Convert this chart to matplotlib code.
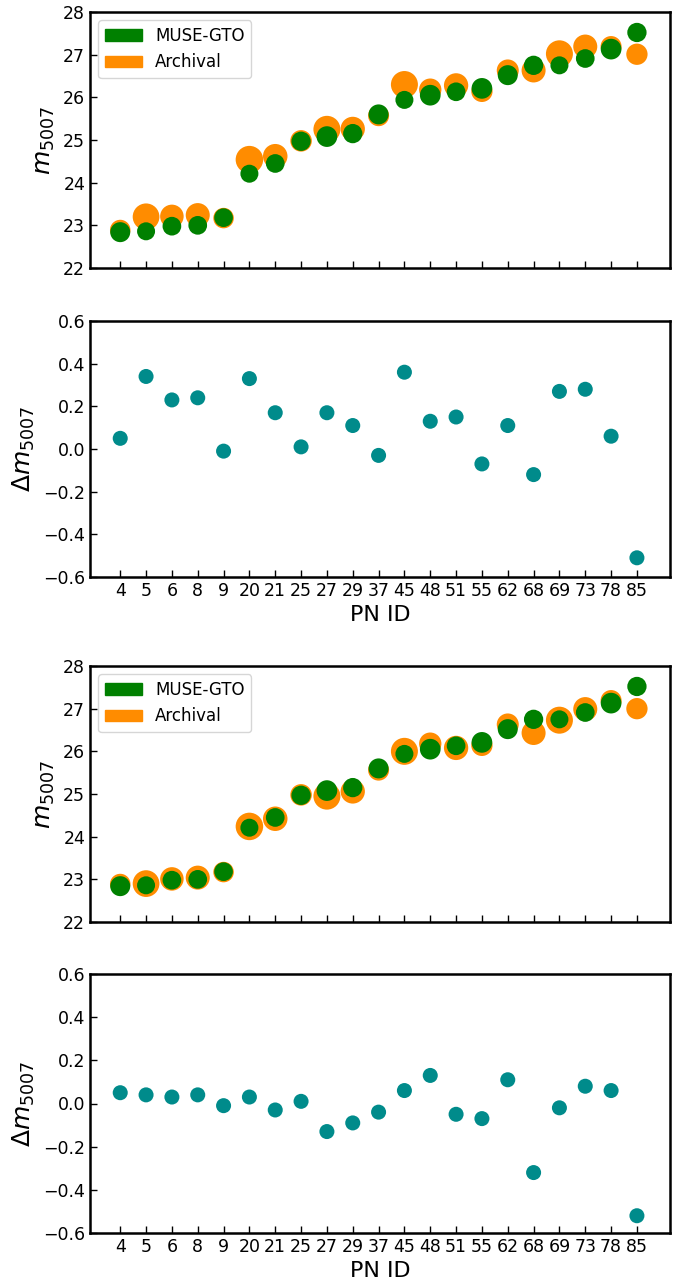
from matplotlib import pyplot as plt
from matplotlib.patches import Patch
import numpy as np

pn_ids = ["4", "5", "6", "8", "9", "20", "21", "25", "27", "29", "37",
          "45", "48", "51", "55", "62", "68", "69", "73", "78", "85"]

muse_mag = [22.84, 22.86, 22.98, 23.00, 23.18, 24.21, 24.45, 24.97, 25.08, 25.15, 25.60,
            25.94, 26.05, 26.13, 26.21, 26.52, 26.75, 26.75, 26.91, 27.13, 27.52]

# archival magnitudes, first calibration (top figure)
arch_mag_1 = [22.89, 23.20, 23.21, 23.24, 23.17, 24.54, 24.62, 24.98, 25.25, 25.26, 25.57,
              26.30, 26.18, 26.28, 26.14, 26.63, 26.63, 27.02, 27.19, 27.19, 27.01]

# archival magnitudes, second calibration (bottom figure)
arch_mag_2 = [22.89, 22.90, 23.01, 23.04, 23.17, 24.24, 24.42, 24.98, 24.95, 25.06, 25.56,
              26.00, 26.18, 26.08, 26.14, 26.63, 26.43, 26.73, 26.99, 27.19, 27.00]

# marker areas (pt^2) as drawn in the figure
muse_size = [207, 168, 181, 181, 181, 168, 181, 193, 222, 193, 207,
             168, 222, 181, 222, 207, 193, 168, 181, 222, 193]
arch_size = [218, 370, 286, 299, 218, 392, 311, 240, 378, 306, 229,
             378, 258, 306, 235, 251, 299, 378, 299, 229, 235]

GREEN = "green"
ORANGE = "darkorange"
TEAL = "darkcyan"


def style_axes(ax):
    ax.tick_params(direction="in", length=5, width=1, labelsize=12.5)
    for sp in ax.spines.values():
        sp.set_linewidth(1.8)
    ax.set_xlim(-1.17, 21.28)


def mag_panel(ax, arch):
    x = np.arange(len(pn_ids))
    ax.scatter(x, arch, s=arch_size, color=ORANGE, edgecolors="none", zorder=2)
    ax.scatter(x, muse_mag, s=muse_size, color=GREEN, edgecolors="none", zorder=3)
    style_axes(ax)
    ax.set_ylim(22, 28)
    ax.set_xticks(x)
    ax.set_xticklabels([])
    ax.set_ylabel(r"$m_{5007}$", fontsize=18)
    handles = [Patch(color=GREEN, label="MUSE-GTO"), Patch(color=ORANGE, label="Archival")]
    ax.legend(handles=handles, loc="upper left", fontsize=12, handlelength=2.2)


def delta_panel(ax, arch):
    x = np.arange(len(pn_ids))
    delta = np.array(arch) - np.array(muse_mag)
    ax.scatter(x, delta, s=117, color=TEAL, edgecolors="none", zorder=3)
    style_axes(ax)
    ax.set_ylim(-0.6, 0.6)
    ax.set_yticks([-0.6, -0.4, -0.2, 0.0, 0.2, 0.4, 0.6])
    ax.set_xticks(x)
    ax.set_xticklabels(pn_ids)
    ax.set_ylabel(r"$\Delta m_{5007}$", fontsize=18)
    ax.set_xlabel("PN ID", fontsize=16)


fig = plt.figure(figsize=(6.88, 12.84), dpi=100)
W, H = 688.0, 1284.0
left, width = 90 / W, 580 / W

ax1 = fig.add_axes([left, 1 - 268 / H, width, 256 / H])
ax2 = fig.add_axes([left, 1 - 577 / H, width, 256 / H])
ax3 = fig.add_axes([left, 1 - 922 / H, width, 256 / H])
ax4 = fig.add_axes([left, 1 - 1233 / H, width, 259 / H])

mag_panel(ax1, arch_mag_1)
delta_panel(ax2, arch_mag_1)
mag_panel(ax3, arch_mag_2)
delta_panel(ax4, arch_mag_2)

fig.savefig("out.png", dpi=100)
